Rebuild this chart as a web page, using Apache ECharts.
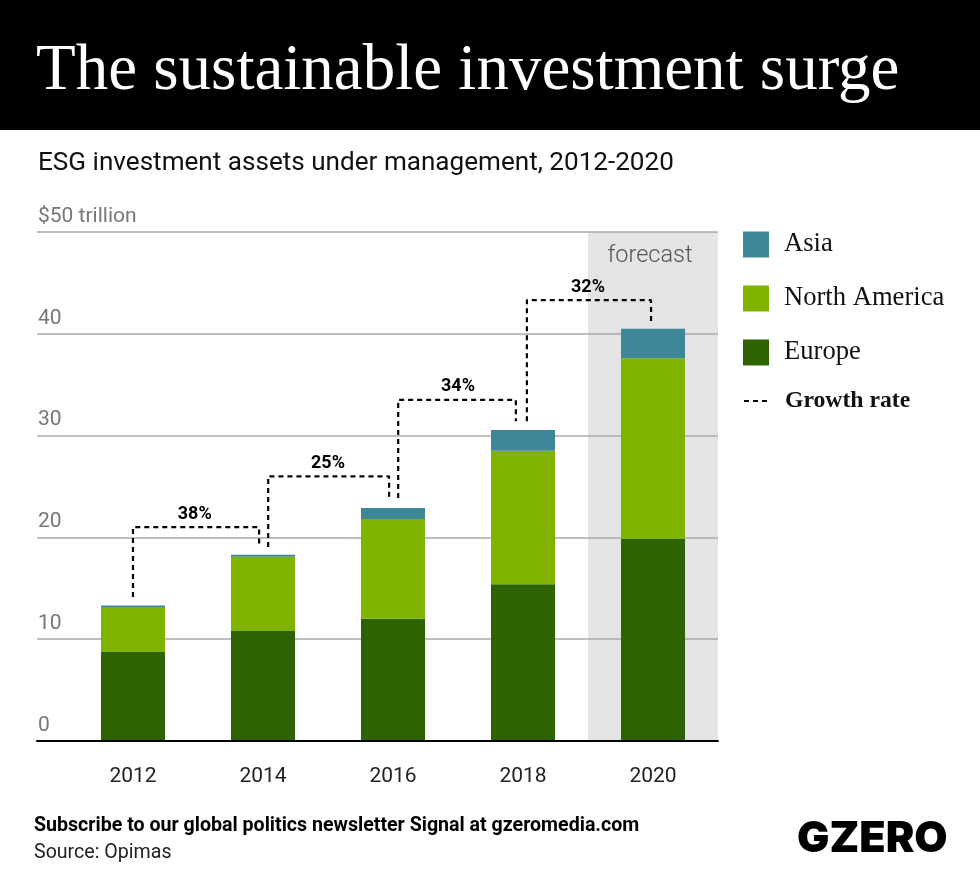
<!DOCTYPE html>
<html lang="en">
    <head>
        <meta charset="UTF-8" />
        <title>The sustainable investment surge</title>
        <script src="https://cdn.jsdelivr.net/npm/echarts@6/dist/echarts.min.js"></script>
        <style>
            body {
                margin: 0;
                padding: 0;
                background: #fff;
            }

            #chart {
                width: 980px;
                height: 890px;
            }
        </style>
    </head>
    <body>
        <div id="chart"></div>
        <script>
            let years = ['2012', '2014', '2016', '2018', '2020'];
            let europe = [8.75, 10.8, 12.0, 15.4, 19.85];
            let northAmerica = [4.35, 7.3, 9.8, 13.1, 17.75];
            let asia = [0.2, 0.2, 1.1, 2.05, 2.9];
            let yTickLabels = { 0: '0', 10: '10', 20: '20', 30: '30', 40: '40', 50: '$50 trillion' };

            // growth connectors, x in years, y in trillions
            let growthPaths = [
                [[2012, 14.15], [2012, 21.0], [2013.94, 21.0], [2013.94, 19.05]],
                [[2014.08, 19.05], [2014.08, 26.0], [2015.94, 26.0], [2015.94, 23.87]],
                [[2016.08, 23.87], [2016.08, 33.5], [2017.89, 33.5], [2017.89, 31.4]],
                [[2018.06, 31.4], [2018.06, 43.3], [2019.97, 43.3], [2019.97, 41.15]]
            ];
            let growthLabels = [
                { value: [2012.95, 21.0], name: '38%' },
                { value: [2015.0, 26.0], name: '25%' },
                { value: [2017.0, 33.5], name: '34%' },
                { value: [2019.0, 43.3], name: '32%' }
            ];
            let forecastRange = [2019, 2021];

            let axisFont = 'Roboto';
            let slabFont = '"Liberation Serif"';

            let chartDom = document.getElementById('chart');
            let myChart = echarts.init(chartDom, null, { renderer: 'canvas' });

            function barSeries(name, data, color) {
                return {
                    name: name,
                    type: 'bar',
                    stack: 'total',
                    xAxisIndex: 1,
                    yAxisIndex: 1,
                    barWidth: 64,
                    z: 3,
                    itemStyle: { color: color },
                    data: data
                };
            }

            let growthSeries = growthPaths.map((path) => ({
                name: 'Growth rate',
                type: 'line',
                xAxisIndex: 2,
                yAxisIndex: 1,
                symbol: 'none',
                z: 4,
                itemStyle: { color: '#000' },
                lineStyle: { color: '#000', width: 2.2, type: [5, 4] },
                data: path
            }));

            let option = {
                animation: false,
                backgroundColor: '#fff',
                graphic: [
                    {
                        type: 'rect',
                        z: -1,
                        shape: { x: 0, y: 0, width: 980, height: 130 },
                        style: { fill: '#000' }
                    }
                ],
                title: [
                    {
                        text: 'The sustainable investment surge',
                        left: 36,
                        top: 39,
                        padding: 0,
                        textStyle: { color: '#fff', fontFamily: slabFont, fontWeight: 400, fontSize: 65 }
                    },
                    {
                        text: 'ESG investment assets under management, 2012-2020',
                        left: 38,
                        top: 150,
                        padding: 0,
                        textStyle: { color: '#111', fontFamily: axisFont, fontWeight: 400, fontSize: 26.1 }
                    },
                    {
                        text: 'Subscribe to our global politics newsletter Signal at gzeromedia.com',
                        left: 34,
                        top: 816,
                        padding: 0,
                        textStyle: { color: '#000', fontFamily: axisFont, fontWeight: 700, fontSize: 19.6 }
                    },
                    {
                        text: 'Source: Opimas',
                        left: 34,
                        top: 843,
                        padding: 0,
                        textStyle: { color: '#222', fontFamily: axisFont, fontWeight: 400, fontSize: 19.6 }
                    },
                    {
                        text: 'GZERO',
                        left: 797,
                        top: 818,
                        padding: 0,
                        textStyle: { color: '#000', fontFamily: 'Inter', fontWeight: 900, fontSize: 43 }
                    }
                ],
                legend: [
                    {
                        orient: 'vertical',
                        left: 738,
                        top: 226,
                        icon: 'rect',
                        itemWidth: 26,
                        itemHeight: 26,
                        itemGap: 27,
                        data: ['Asia', 'North America', 'Europe'],
                        textStyle: { color: '#111', fontFamily: slabFont, fontSize: 26.6, padding: [0, 0, 0, 10] }
                    },
                    {
                        left: 738,
                        top: 384,
                        itemWidth: 26,
                        itemHeight: 24,
                        data: ['Growth rate'],
                        itemStyle: { opacity: 0 },
                        lineStyle: { color: '#000', width: 2, type: [5, 4] },
                        textStyle: { color: '#111', fontFamily: slabFont, fontWeight: 700, fontSize: 23.7, padding: [0, 0, 0, 10] }
                    }
                ],
                grid: [
                    { left: 37, right: 262, top: 232, bottom: 149 },
                    { left: 68, right: 262, top: 232, bottom: 149 }
                ],
                xAxis: [
                    {
                        type: 'value',
                        gridIndex: 0,
                        min: 0,
                        max: 1,
                        z: 5,
                        axisLine: { show: true, lineStyle: { color: '#000', width: 2 } },
                        axisTick: { show: false },
                        axisLabel: { show: false },
                        splitLine: { show: false }
                    },
                    {
                        type: 'category',
                        gridIndex: 1,
                        data: years,
                        axisLine: { show: false },
                        axisTick: { show: false },
                        axisLabel: { color: '#222', fontFamily: axisFont, fontSize: 21, margin: 25 }
                    },
                    {
                        type: 'value',
                        gridIndex: 1,
                        show: false,
                        min: 2011,
                        max: 2021,
                        splitLine: { show: false }
                    }
                ],
                yAxis: [
                    {
                        type: 'value',
                        gridIndex: 0,
                        min: 0,
                        max: 50,
                        interval: 10,
                        z: 2,
                        axisLine: { show: false },
                        axisTick: { show: false },
                        axisLabel: {
                            inside: true,
                            margin: 1,
                            color: '#777',
                            fontFamily: axisFont,
                            fontSize: 21,
                            verticalAlign: 'bottom',
                            padding: [0, 0, 5, 0],
                            formatter: (v) => yTickLabels[v]
                        },
                        splitLine: { show: true, lineStyle: { color: '#aaa', width: 1.5 } }
                    },
                    {
                        type: 'value',
                        gridIndex: 1,
                        show: false,
                        min: 0,
                        max: 50,
                        splitLine: { show: false }
                    }
                ],
                series: [
                    {
                        name: 'forecast',
                        type: 'line',
                        xAxisIndex: 2,
                        yAxisIndex: 1,
                        z: 0,
                        symbol: 'none',
                        data: [],
                        markArea: {
                            silent: true,
                            z: 0,
                            itemStyle: { color: '#e4e4e4' },
                            label: {
                                show: true,
                                position: 'insideTop',
                                distance: 8,
                                offset: [-3, 4],
                                color: '#555',
                                fontFamily: axisFont,
                                fontWeight: 300,
                                fontSize: 23.5
                            },
                            data: [[{ name: 'forecast', xAxis: forecastRange[0], yAxis: 50 }, { xAxis: forecastRange[1], yAxis: 0 }]]
                        }
                    },
                    barSeries('Europe', europe, '#2d6300'),
                    barSeries('North America', northAmerica, '#80b300'),
                    barSeries('Asia', asia, '#3d8799'),
                    ...growthSeries,
                    {
                        name: 'growth labels',
                        type: 'scatter',
                        xAxisIndex: 2,
                        yAxisIndex: 1,
                        symbolSize: 0,
                        z: 5,
                        itemStyle: { opacity: 1 },
                        label: {
                            show: true,
                            position: 'top',
                            distance: 4,
                            formatter: '{b}',
                            color: '#000',
                            fontFamily: axisFont,
                            fontWeight: 700,
                            fontSize: 18
                        },
                        data: growthLabels
                    }
                ]
            };
            myChart.setOption(option);
        </script>
    </body>
</html>
